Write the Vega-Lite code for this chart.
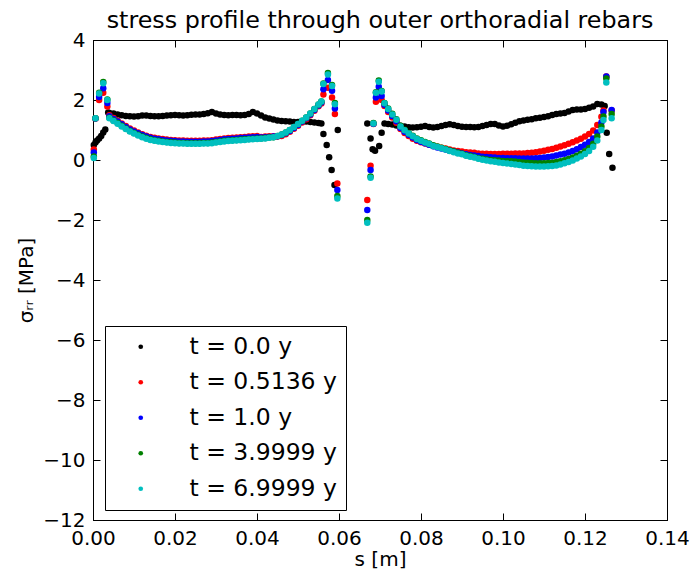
{
"$schema": "https://vega.github.io/schema/vega-lite/v6.json",
"autosize": {"type": "none"},
"width": 574, "height": 480,
"padding": {"left": 93, "top": 40, "right": 25, "bottom": 51},
"background": "white",
"config": {
 "font": "DejaVu Sans",
 "view": {"stroke": "black", "strokeWidth": 1},
 "axis": {"domainColor": "black", "tickColor": "black", "labelColor": "black", "titleColor": "black", "labelFontSize": 20, "titleFontSize": 20, "titleFontWeight": "normal", "grid": false, "tickSize": -7, "labelPadding": 15, "labelFlush": false, "labelOverlap": false, "labelFont": "DejaVu Sans", "titleFont": "DejaVu Sans"}
},
"title": {"text": "stress profile through outer orthoradial rebars", "fontSize": 23.8, "fontWeight": "normal", "anchor": "middle", "offset": -3, "color": "black", "font": "DejaVu Sans"},
"datasets": {"d": [
{"s":0.0002,"a":0.50,"b":0.35,"c":0.25,"d":0.12,"e":0.07},
{"s":0.0006,"a":0.58,"b":1.38,"c":1.38,"d":1.39,"e":1.39},
{"s":0.0010,"a":0.65},
{"s":0.0015,"a":0.72,"b":2.00,"c":2.10,"d":2.24,"e":2.22},
{"s":0.0020,"a":0.80},
{"s":0.0025,"a":0.92,"b":2.24,"c":2.39,"d":2.60,"e":2.56},
{"s":0.0030,"a":1.02},
{"s":0.0035,"b":1.78,"c":1.90,"d":2.02,"e":2.00},
{"s":0.0037,"a":1.58},
{"s":0.0040,"a":1.57,"b":1.49,"c":1.46,"d":1.41,"e":1.39},
{"s":0.005,"a":1.55,"b":1.40,"c":1.37,"d":1.32,"e":1.30},
{"s":0.006,"a":1.52,"b":1.31,"c":1.28,"d":1.23,"e":1.21},
{"s":0.007,"a":1.49,"b":1.22,"c":1.19,"d":1.14,"e":1.12},
{"s":0.008,"a":1.47,"b":1.13,"c":1.10,"d":1.05,"e":1.03},
{"s":0.009,"a":1.46,"b":1.05,"c":1.02,"d":0.97,"e":0.95},
{"s":0.010,"a":1.45,"b":0.98,"c":0.95,"d":0.90,"e":0.88},
{"s":0.011,"a":1.46,"b":0.92,"c":0.89,"d":0.84,"e":0.82},
{"s":0.012,"a":1.48,"b":0.86,"c":0.83,"d":0.78,"e":0.76},
{"s":0.013,"a":1.48,"b":0.81,"c":0.78,"d":0.73,"e":0.71},
{"s":0.014,"a":1.47,"b":0.77,"c":0.74,"d":0.69,"e":0.67},
{"s":0.015,"a":1.46,"b":0.74,"c":0.71,"d":0.66,"e":0.64},
{"s":0.016,"a":1.46,"b":0.72,"c":0.69,"d":0.64,"e":0.62},
{"s":0.017,"a":1.47,"b":0.70,"c":0.67,"d":0.62,"e":0.60},
{"s":0.018,"a":1.48,"b":0.68,"c":0.65,"d":0.60,"e":0.58},
{"s":0.019,"a":1.49,"b":0.67,"c":0.64,"d":0.59,"e":0.57},
{"s":0.020,"a":1.50,"b":0.66,"c":0.63,"d":0.58,"e":0.56},
{"s":0.021,"a":1.49,"b":0.65,"c":0.62,"d":0.57,"e":0.55},
{"s":0.022,"a":1.48,"b":0.65,"c":0.62,"d":0.57,"e":0.55},
{"s":0.023,"a":1.49,"b":0.64,"c":0.61,"d":0.56,"e":0.54},
{"s":0.024,"a":1.51,"b":0.64,"c":0.61,"d":0.56,"e":0.54},
{"s":0.025,"a":1.52,"b":0.64,"c":0.61,"d":0.56,"e":0.54},
{"s":0.026,"a":1.52,"b":0.64,"c":0.61,"d":0.56,"e":0.54},
{"s":0.027,"a":1.53,"b":0.65,"c":0.62,"d":0.57,"e":0.55},
{"s":0.028,"a":1.56,"b":0.65,"c":0.62,"d":0.57,"e":0.55},
{"s":0.029,"a":1.60,"b":0.66,"c":0.63,"d":0.58,"e":0.56},
{"s":0.030,"a":1.55,"b":0.68,"c":0.65,"d":0.60,"e":0.58},
{"s":0.031,"a":1.52,"b":0.70,"c":0.67,"d":0.62,"e":0.60},
{"s":0.032,"a":1.50,"b":0.72,"c":0.69,"d":0.64,"e":0.62},
{"s":0.033,"a":1.49,"b":0.73,"c":0.70,"d":0.65,"e":0.63},
{"s":0.034,"a":1.50,"b":0.74,"c":0.71,"d":0.66,"e":0.64},
{"s":0.035,"a":1.50,"b":0.75,"c":0.72,"d":0.67,"e":0.65},
{"s":0.036,"a":1.49,"b":0.76,"c":0.73,"d":0.68,"e":0.66},
{"s":0.037,"a":1.50,"b":0.77,"c":0.74,"d":0.69,"e":0.67},
{"s":0.038,"a":1.53,"b":0.78,"c":0.75,"d":0.70,"e":0.68},
{"s":0.039,"a":1.60,"b":0.79,"c":0.76,"d":0.71,"e":0.69},
{"s":0.040,"a":1.55,"b":0.80,"c":0.77,"d":0.72,"e":0.70},
{"s":0.041,"a":1.48,"b":0.77,"c":0.75,"d":0.72,"e":0.71},
{"s":0.042,"a":1.42,"b":0.78,"c":0.76,"d":0.73,"e":0.72},
{"s":0.043,"a":1.38,"b":0.79,"c":0.77,"d":0.75,"e":0.74},
{"s":0.044,"a":1.35,"b":0.79,"c":0.78,"d":0.76,"e":0.76},
{"s":0.045,"a":1.32,"b":0.78,"c":0.79,"d":0.80,"e":0.80},
{"s":0.046,"a":1.30,"b":0.80,"c":0.83,"d":0.85,"e":0.85},
{"s":0.047,"a":1.29,"b":0.86,"c":0.89,"d":0.92,"e":0.92},
{"s":0.048,"a":1.28,"b":0.94,"c":0.97,"d":1.00,"e":1.00},
{"s":0.049,"a":1.27,"b":1.04,"c":1.07,"d":1.10,"e":1.10},
{"s":0.050,"a":1.27,"b":1.14,"c":1.17,"d":1.20,"e":1.20},
{"s":0.051,"a":1.28,"b":1.25,"c":1.28,"d":1.31,"e":1.31},
{"s":0.052,"a":1.28,"b":1.36,"c":1.39,"d":1.42,"e":1.42},
{"s":0.053,"a":1.27,"b":1.49,"c":1.52,"d":1.55,"e":1.55},
{"s":0.054,"a":1.25,"b":1.64,"c":1.67,"d":1.70,"e":1.70},
{"s":0.055,"a":1.23,"b":1.79,"c":1.82,"d":1.85,"e":1.85},
{"s":0.0557,"a":1.22,"b":1.88,"c":1.92,"d":1.95,"e":1.95},
{"s":0.0562,"a":0.87,"b":2.18,"c":2.36,"d":2.55,"e":2.53},
{"s":0.0570,"a":0.50},
{"s":0.0573,"b":2.41,"c":2.67,"d":2.90,"e":2.85},
{"s":0.0576,"a":0.09},
{"s":0.0582,"a":-0.33},
{"s":0.0583,"b":2.08,"c":2.31,"d":2.50,"e":2.47},
{"s":0.0589,"a":-0.83},
{"s":0.0590,"b":1.53,"c":1.72,"d":1.90,"e":1.86},
{"s":0.0596,"b":-0.78,"c":-1.00,"d":-1.20,"e":-1.28},
{"s":0.0597,"a":1.00},
{"s":0.0669,"a":1.22,"b":-1.33,"c":-1.67,"d":-2.00,"e":-2.09},
{"s":0.0677,"a":0.72,"b":-0.19,"c":-0.33,"d":-0.55,"e":-0.59},
{"s":0.0682,"a":0.36},
{"s":0.0684,"b":1.20,"c":1.21,"d":1.23,"e":1.22},
{"s":0.0688,"a":0.31},
{"s":0.0690,"b":1.94,"c":2.08,"d":2.26,"e":2.24},
{"s":0.0697,"b":2.30,"c":2.44,"d":2.65,"e":2.61},
{"s":0.0698,"a":0.47},
{"s":0.0704,"a":0.91,"b":2.00,"c":2.13,"d":2.30,"e":2.28},
{"s":0.0711,"a":1.22,"b":1.80,"c":1.84,"d":1.90,"e":1.89},
{"s":0.072,"a":1.20,"b":1.60,"c":1.65,"d":1.72,"e":1.70},
{"s":0.073,"a":1.18,"b":1.42,"c":1.47,"d":1.54,"e":1.52},
{"s":0.074,"a":1.15,"b":1.24,"c":1.29,"d":1.36,"e":1.34},
{"s":0.075,"a":1.14,"b":1.03,"c":1.07,"d":1.14,"e":1.12},
{"s":0.076,"a":1.12,"b":0.90,"c":0.94,"d":1.01,"e":0.99},
{"s":0.077,"a":1.09,"b":0.80,"c":0.84,"d":0.90,"e":0.88},
{"s":0.078,"a":1.08,"b":0.71,"c":0.75,"d":0.81,"e":0.79},
{"s":0.079,"a":1.09,"b":0.64,"c":0.67,"d":0.72,"e":0.70},
{"s":0.080,"a":1.11,"b":0.59,"c":0.61,"d":0.66,"e":0.64},
{"s":0.081,"a":1.13,"b":0.55,"c":0.56,"d":0.60,"e":0.58},
{"s":0.082,"a":1.10,"b":0.51,"c":0.51,"d":0.55,"e":0.53},
{"s":0.083,"a":1.08,"b":0.47,"c":0.46,"d":0.49,"e":0.47},
{"s":0.084,"a":1.10,"b":0.44,"c":0.42,"d":0.45,"e":0.43},
{"s":0.085,"a":1.13,"b":0.41,"c":0.38,"d":0.41,"e":0.39},
{"s":0.086,"a":1.17,"b":0.38,"c":0.35,"d":0.37,"e":0.35},
{"s":0.087,"a":1.19,"b":0.35,"c":0.31,"d":0.32,"e":0.30},
{"s":0.088,"a":1.17,"b":0.32,"c":0.28,"d":0.28,"e":0.26},
{"s":0.089,"a":1.13,"b":0.30,"c":0.25,"d":0.24,"e":0.22},
{"s":0.090,"a":1.11,"b":0.28,"c":0.22,"d":0.21,"e":0.19},
{"s":0.091,"a":1.10,"b":0.26,"c":0.19,"d":0.16,"e":0.14},
{"s":0.092,"a":1.10,"b":0.25,"c":0.17,"d":0.13,"e":0.11},
{"s":0.093,"a":1.09,"b":0.24,"c":0.15,"d":0.10,"e":0.08},
{"s":0.094,"a":1.10,"b":0.22,"c":0.13,"d":0.06,"e":0.04},
{"s":0.095,"a":1.13,"b":0.21,"c":0.11,"d":0.04,"e":0.01},
{"s":0.096,"a":1.17,"b":0.21,"c":0.10,"d":0.02,"e":-0.02},
{"s":0.097,"a":1.20,"b":0.20,"c":0.09,"d":0.00,"e":-0.04},
{"s":0.098,"a":1.20,"b":0.20,"c":0.08,"d":-0.01,"e":-0.06},
{"s":0.099,"a":1.15,"b":0.20,"c":0.07,"d":-0.02,"e":-0.08},
{"s":0.100,"a":1.12,"b":0.21,"c":0.07,"d":-0.03,"e":-0.10},
{"s":0.101,"a":1.14,"b":0.21,"c":0.06,"d":-0.04,"e":-0.12},
{"s":0.102,"a":1.19,"b":0.21,"c":0.06,"d":-0.04,"e":-0.13},
{"s":0.103,"a":1.24,"b":0.22,"c":0.06,"d":-0.05,"e":-0.15},
{"s":0.104,"a":1.29,"b":0.22,"c":0.05,"d":-0.07,"e":-0.17},
{"s":0.105,"a":1.32,"b":0.22,"c":0.05,"d":-0.08,"e":-0.19},
{"s":0.106,"a":1.34,"b":0.23,"c":0.05,"d":-0.09,"e":-0.20},
{"s":0.107,"a":1.36,"b":0.24,"c":0.05,"d":-0.10,"e":-0.21},
{"s":0.108,"a":1.39,"b":0.26,"c":0.06,"d":-0.11,"e":-0.22},
{"s":0.109,"a":1.41,"b":0.28,"c":0.07,"d":-0.11,"e":-0.22},
{"s":0.110,"a":1.43,"b":0.31,"c":0.08,"d":-0.11,"e":-0.22},
{"s":0.111,"a":1.46,"b":0.34,"c":0.10,"d":-0.10,"e":-0.21},
{"s":0.112,"a":1.50,"b":0.37,"c":0.12,"d":-0.09,"e":-0.20},
{"s":0.113,"a":1.53,"b":0.41,"c":0.15,"d":-0.07,"e":-0.18},
{"s":0.114,"a":1.55,"b":0.45,"c":0.18,"d":-0.04,"e":-0.15},
{"s":0.115,"a":1.57,"b":0.49,"c":0.21,"d":-0.01,"e":-0.11},
{"s":0.116,"a":1.62,"b":0.54,"c":0.25,"d":0.03,"e":-0.07},
{"s":0.117,"a":1.67,"b":0.59,"c":0.30,"d":0.08,"e":-0.02},
{"s":0.118,"a":1.68,"b":0.65,"c":0.36,"d":0.14,"e":0.05},
{"s":0.119,"a":1.68,"b":0.71,"c":0.43,"d":0.21,"e":0.12},
{"s":0.120,"a":1.70,"b":0.78,"c":0.51,"d":0.29,"e":0.20},
{"s":0.121,"a":1.74,"b":0.87,"c":0.60,"d":0.40,"e":0.30},
{"s":0.122,"a":1.78,"b":0.98,"c":0.72,"d":0.54,"e":0.44},
{"s":0.123,"a":1.87,"b":1.17,"c":0.92,"d":0.78,"e":0.65},
{"s":0.124,"a":1.85,"b":1.44,"c":1.25,"d":1.12,"e":1.00},
{"s":0.1245,"b":1.65,"c":1.60,"d":1.45,"e":1.33},
{"s":0.1248,"a":1.80},
{"s":0.1252,"b":2.78,"c":2.78,"d":2.72,"e":2.58},
{"s":0.1253,"a":0.91},
{"s":0.1259,"a":0.20},
{"s":0.1265,"b":1.65,"c":1.67,"d":1.53,"e":1.39},
{"s":0.1267,"a":-0.26}
]},
"layer": [
 {
  "data": {"name": "d"},
  "transform": [{"fold": ["a", "b", "c", "d", "e"], "as": ["k", "v"]}, {"filter": "isValid(datum.v)"}],
  "mark": {"type": "circle", "size": 42, "opacity": 1},
  "encoding": {
   "x": {"field": "s", "type": "quantitative", "scale": {"domain": [0, 0.14], "nice": false, "zero": false},
         "axis": {"orient": "bottom", "title": "s [m]", "values": [0, 0.02, 0.04, 0.06, 0.08, 0.1, 0.12, 0.14], "format": ".2f", "titlePadding": 1}},
   "y": {"field": "v", "type": "quantitative", "scale": {"domain": [-12, 4], "nice": false, "zero": false},
         "axis": {"orient": "left", "title": "σᵣᵣ [MPa]", "values": [-12, -10, -8, -6, -4, -2, 0, 2, 4], "format": "d", "titlePadding": 6}},
   "color": {"field": "k", "type": "nominal",
     "scale": {"domain": ["a", "b", "c", "d", "e"], "range": ["#000000", "#ff0000", "#0000ff", "#008000", "#00bfbf"]},
     "legend": {"title": null, "orient": "none", "legendX": 12, "legendY": 286, "padding": 9, "strokeColor": "black", "fillColor": "white", "labelFontSize": 23.5, "labelColor": "black", "labelFont": "DejaVu Sans", "symbolType": "circle", "symbolSize": 22, "symbolStrokeWidth": 0, "symbolOffset": 15, "labelOffset": 37, "rowPadding": 10.5, "cornerRadius": 0,
       "labelExpr": "datum.label == 'a' ? 't = 0.0 y' : datum.label == 'b' ? 't = 0.5136 y' : datum.label == 'c' ? 't = 1.0 y' : datum.label == 'd' ? 't = 3.9999 y' : 't = 6.9999 y'"}},
   "order": {"field": "k"}
  }
 },
 {
  "data": {"values": [{"s": 0, "v": 0}]},
  "mark": {"type": "point", "opacity": 0},
  "encoding": {
   "x": {"field": "s", "type": "quantitative", "scale": {"domain": [0, 0.14], "nice": false, "zero": false},
         "axis": {"orient": "top", "title": null, "labels": false, "values": [0, 0.02, 0.04, 0.06, 0.08, 0.1, 0.12, 0.14]}},
   "y": {"field": "v", "type": "quantitative", "scale": {"domain": [-12, 4], "nice": false, "zero": false},
         "axis": {"orient": "right", "title": null, "labels": false, "values": [-12, -10, -8, -6, -4, -2, 0, 2, 4]}}
  }
 }
],
"resolve": {"axis": {"x": "independent", "y": "independent"}}
}
